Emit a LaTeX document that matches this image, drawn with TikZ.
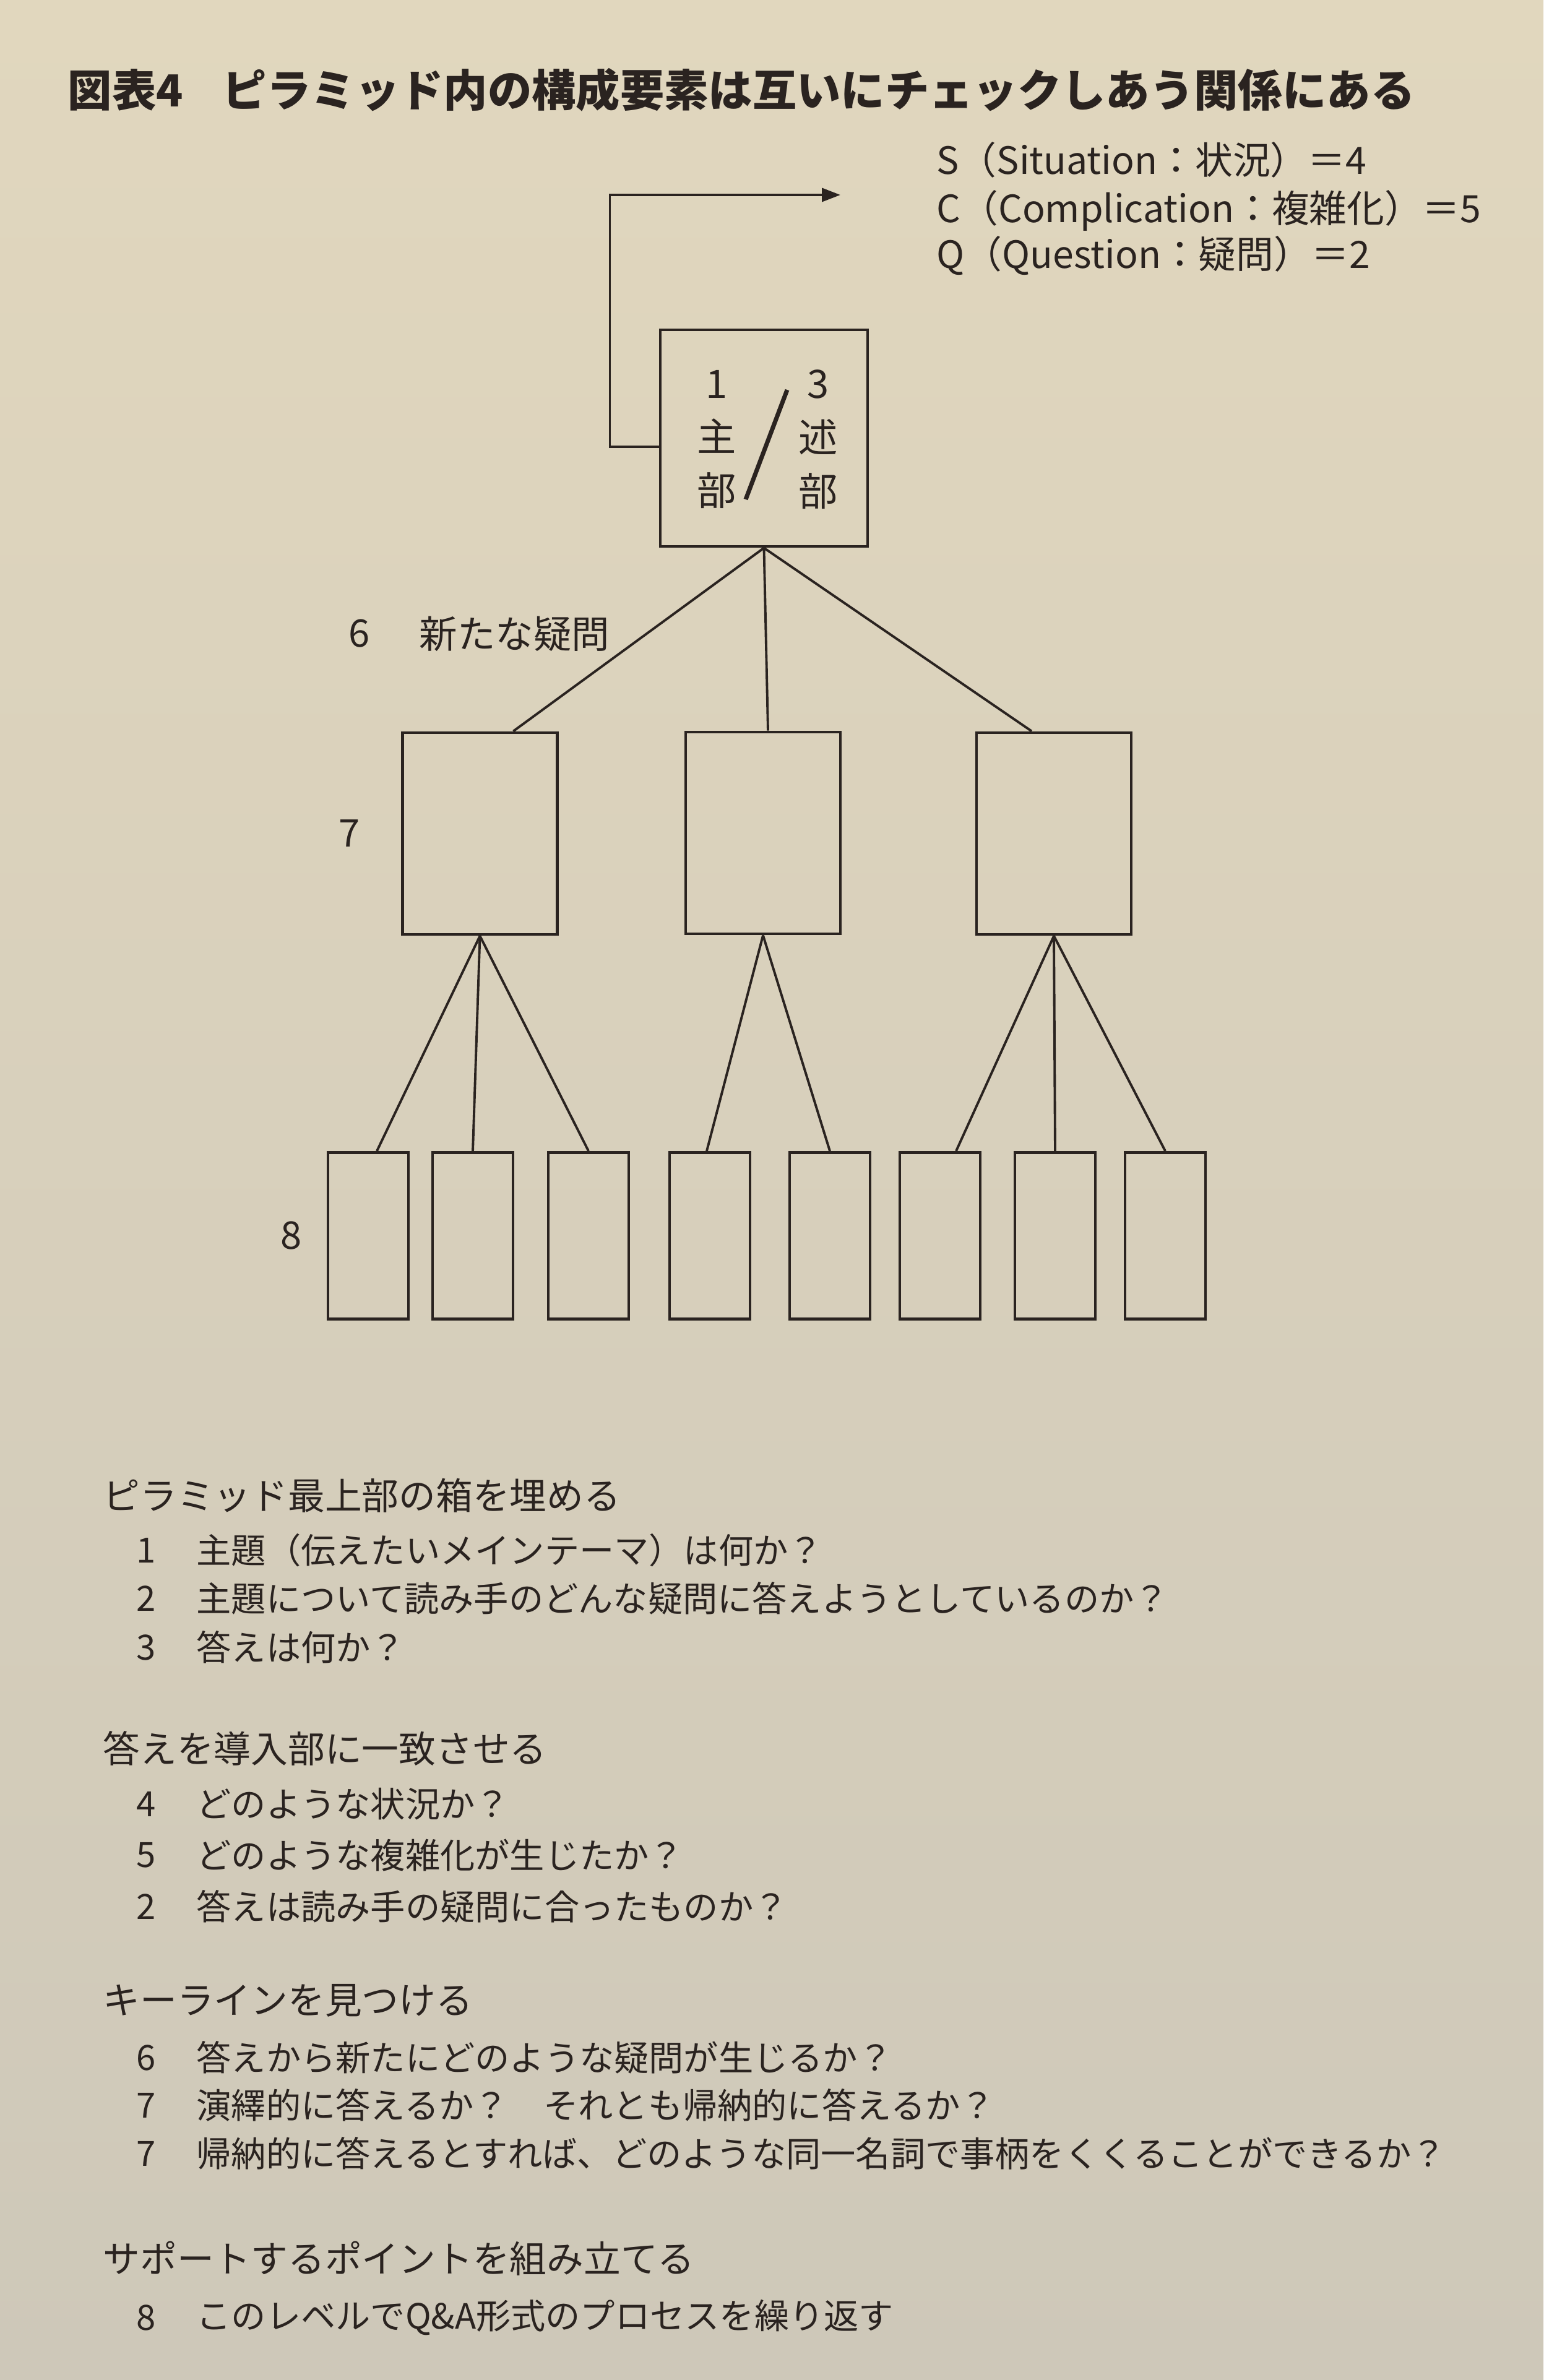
\documentclass[tikz,border=0pt]{standalone}
\usepackage{fontspec}
\setmainfont{Noto Sans CJK JP}
\usepackage{tikz}
\usetikzlibrary{calc}
\usetikzlibrary{positioning}
\usetikzlibrary{arrows.meta}
\definecolor{paper}{RGB}{225,215,190}
\definecolor{papergray}{RGB}{206,200,185}
\definecolor{ink}{RGB}{42,35,32}

\begin{document}
\begin{tikzpicture}[
	box/.style={draw=ink, line width=1.4pt, rectangle, inner sep=0pt},
	link/.style={draw=ink, line width=1.1pt},
	txt/.style={text=ink, inner sep=0pt, anchor=west, font=\fontsize{16pt}{19pt}\selectfont},
	head/.style={txt, font=\fontsize{17pt}{20pt}\selectfont},
	num/.style={text=ink, inner sep=0pt, font=\fontsize{16pt}{19pt}\selectfont},
	tag/.style={text=ink, inner sep=0pt, font=\fontsize{17.5pt}{20pt}\selectfont}
]
	\shade[top color=paper, bottom color=papergray] (0,0) rectangle (24.94,-38.46);
	\useasboundingbox (0,0) rectangle (24.94,-38.46);

	\node[txt, font=\fontsize{20.3pt}{24pt}\selectfont\bfseries] (title) at (1.09,-1.45) {図表4\hspace{0.9em}ピラミッド内の構成要素は互いにチェックしあう関係にある};

	\node[txt, font=\fontsize{17.3pt}{20pt}\selectfont] (sit) at (15.13,-2.58) {S（Situation：状況）＝4};
	\node[txt, font=\fontsize{17.3pt}{20pt}\selectfont] (comp) at (15.13,-3.40) {C（Complication：複雑化）＝5};
	\node[txt, font=\fontsize{17.3pt}{20pt}\selectfont] (ques) at (15.13,-4.13) {Q（Question：疑問）＝2};

	\node[box, minimum width=3.35cm, minimum height=3.5cm] (top) at (12.345,-7.08) {};
	\node[tag, align=center, font=\fontsize{18pt}{24.7pt}\selectfont] (subj) at (11.58,-7.10) {1\\主\\部};
	\node[tag, align=center, font=\fontsize{18pt}{24.7pt}\selectfont] (pred) at (13.22,-7.10) {3\\述\\部};
	\draw[ink, line width=2pt] ($(top.center)+(0.375,0.78)$) -- ($(top.center)+(-0.295,-0.99)$);
	\coordinate (tip) at (13.58,-3.15);
	\draw[link, -{Triangle[length=3mm, width=2.2mm]}] ([yshift=-1.4mm]top.west) -- ++(-0.79,0) |- (tip);

	\node[box, minimum width=2.5cm, minimum height=3.26cm] (k1) at (7.755,-13.47) {};
	\node[box, minimum width=2.5cm, minimum height=3.26cm] (k2) at (12.33,-13.46) {};
	\node[box, minimum width=2.5cm, minimum height=3.26cm] (k3) at (17.03,-13.47) {};
	\draw[link] (top.south) -- ([xshift=5.4mm]k1.north);
	\draw[link] (top.south) -- ([xshift=0.8mm]k2.north);
	\draw[link] (top.south) -- ([xshift=-3.6mm]k3.north);

	\node[box, minimum width=1.3cm, minimum height=2.69cm] (s1) at (5.95,-19.97) {};
	\node[box, minimum width=1.3cm, minimum height=2.69cm] (s2) at (7.64,-19.97) {};
	\node[box, minimum width=1.3cm, minimum height=2.69cm] (s3) at (9.51,-19.97) {};
	\node[box, minimum width=1.3cm, minimum height=2.69cm] (s4) at (11.47,-19.97) {};
	\node[box, minimum width=1.3cm, minimum height=2.69cm] (s5) at (13.41,-19.97) {};
	\node[box, minimum width=1.3cm, minimum height=2.69cm] (s6) at (15.19,-19.97) {};
	\node[box, minimum width=1.3cm, minimum height=2.69cm] (s7) at (17.05,-19.97) {};
	\node[box, minimum width=1.3cm, minimum height=2.69cm] (s8) at (18.83,-19.97) {};
	\draw[link] (k1.south) -- ([xshift=1.4mm]s1.north);
	\draw[link] (k1.south) -- (s2.north);
	\draw[link] (k1.south) -- (s3.north);
	\draw[link] (k2.south) -- ([xshift=-0.5mm]s4.north);
	\draw[link] (k2.south) -- (s5.north);
	\draw[link] (k3.south) -- ([xshift=2.6mm]s6.north);
	\draw[link] (k3.south) -- (s7.north);
	\draw[link] (k3.south) -- (s8.north);

	\node[txt, font=\fontsize{17.5pt}{20pt}\selectfont] (newq) at (6.77,-10.24) {新たな疑問};
	\node[tag, left=0.79cm of newq] (l6) {6};
	\node[tag, left=0.66cm of k1] (l7) {7};
	\node[tag, left=0.39cm of s1] (l8) {8};

	\node[head] (h1) at (1.66,-24.17) {ピラミッド最上部の箱を埋める};
	\node[num] (n1) at (2.36,-25.05) {1};
	\node[txt] (t1) at (3.17,-25.05) {主題（伝えたいメインテーマ）は何か？};
	\node[num] (n2) at (2.36,-25.83) {2};
	\node[txt] (t2) at (3.17,-25.83) {主題について読み手のどんな疑問に答えようとしているのか？};
	\node[num] (n3) at (2.36,-26.62) {3};
	\node[txt] (t3) at (3.17,-26.62) {答えは何か？};

	\node[head] (h2) at (1.66,-28.25) {答えを導入部に一致させる};
	\node[num] (n4) at (2.36,-29.15) {4};
	\node[txt] (t4) at (3.17,-29.15) {どのような状況か？};
	\node[num] (n5) at (2.36,-29.98) {5};
	\node[txt] (t5) at (3.17,-29.98) {どのような複雑化が生じたか？};
	\node[num] (n2b) at (2.36,-30.81) {2};
	\node[txt] (t2b) at (3.17,-30.81) {答えは読み手の疑問に合ったものか？};

	\node[head] (h3) at (1.66,-32.33) {キーラインを見つける};
	\node[num] (n6) at (2.36,-33.25) {6};
	\node[txt] (t6) at (3.17,-33.25) {答えから新たにどのような疑問が生じるか？};
	\node[num] (n7) at (2.36,-34.02) {7};
	\node[txt] (t7) at (3.17,-34.02) {演繹的に答えるか？　それとも帰納的に答えるか？};
	\node[num] (n7b) at (2.36,-34.80) {7};
	\node[txt] (t7b) at (3.17,-34.80) {帰納的に答えるとすれば、どのような同一名詞で事柄をくくることができるか？};

	\node[head] (h4) at (1.66,-36.50) {サポートするポイントを組み立てる};
	\node[num] (n8) at (2.36,-37.45) {8};
	\node[txt] (t8) at (3.17,-37.45) {このレベルでQ\&A形式のプロセスを繰り返す};
\end{tikzpicture}
\end{document}
